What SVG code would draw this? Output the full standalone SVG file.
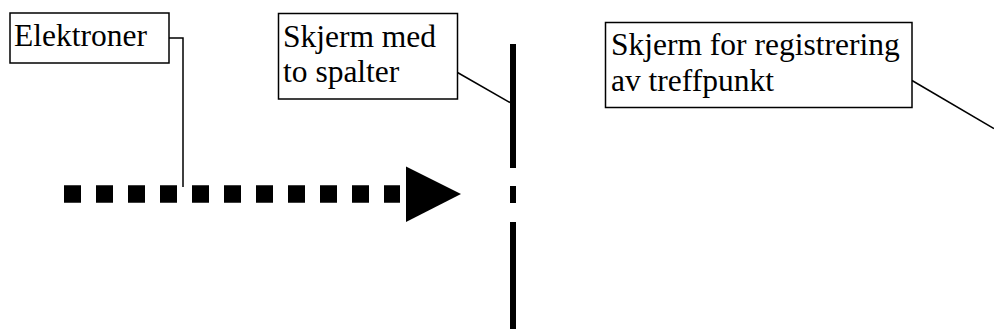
<svg xmlns="http://www.w3.org/2000/svg" width="994" height="333" viewBox="0 0 994 333">
<style>
.box{fill:#fff;stroke:#000;stroke-width:1.5}
.lbl{font-family:"Liberation Serif","Times New Roman",serif;font-size:31.5px;fill:#000}
.conn{fill:none;stroke:#000;stroke-width:1.5}
</style>
<rect width="994" height="333" fill="#fff"/>
<g id="connectors">
<polyline class="conn" points="169,38 183,38 183,187"/>
<line class="conn" x1="457.5" y1="72.5" x2="510" y2="102.5"/>
<line class="conn" x1="912" y1="80.5" x2="994" y2="128.5"/>
</g>
<g id="beam">
<path d="M64 194H400" stroke="#000" stroke-width="17.5" stroke-dasharray="17 15" fill="none"/>
<polygon points="406,166.5 461,194 406,222" fill="#000"/>
</g>
<g id="screen">
<rect x="510" y="44" width="6" height="124" fill="#000"/>
<rect x="510" y="186" width="6" height="17" fill="#000"/>
<rect x="510" y="222" width="6" height="107" fill="#000"/>
</g>
<g id="elektroner">
<rect class="box" x="10" y="13" width="159" height="50"/>
<text class="lbl" x="14" y="46">Elektroner</text>
</g>
<g id="skjerm-med">
<rect class="box" x="278.5" y="13.5" width="179" height="85.5"/>
<text class="lbl" x="283" y="46.5">Skjerm med</text>
<text class="lbl" x="283" y="81.5">to spalter</text>
</g>
<g id="skjerm-registrering">
<rect class="box" x="605.5" y="22.5" width="306.5" height="85"/>
<text class="lbl" x="611" y="55">Skjerm for registrering</text>
<text class="lbl" x="611" y="91">av treffpunkt</text>
</g>
</svg>
